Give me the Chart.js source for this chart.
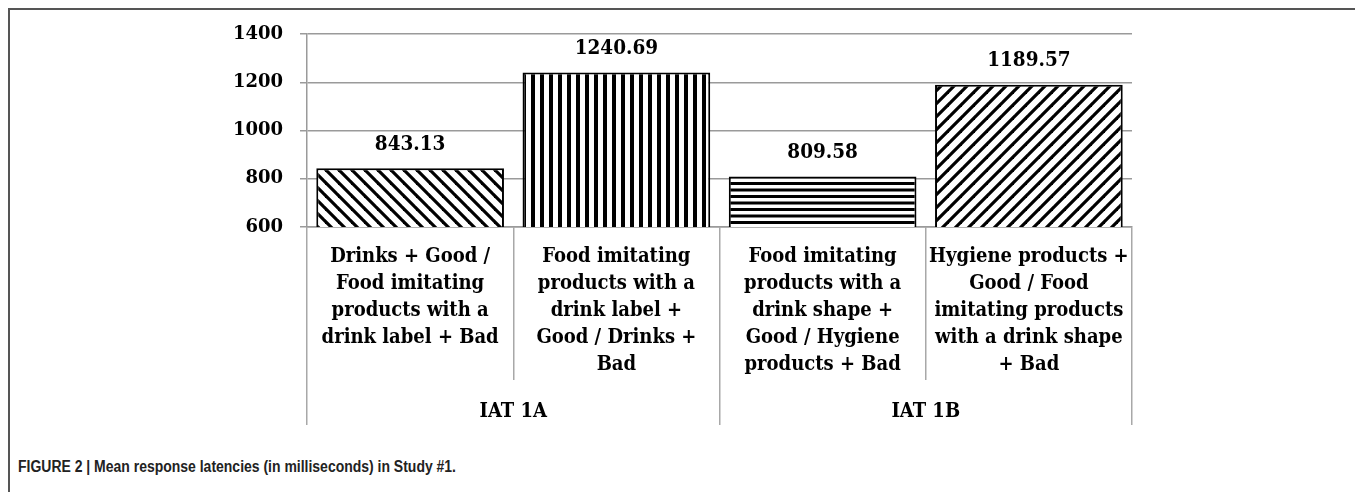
<!DOCTYPE html>
<html><head><meta charset="utf-8">
<script src="https://cdn.jsdelivr.net/npm/chart.js@4.4.1/dist/chart.umd.min.js"></script>
<style>
html,body{margin:0;padding:0;background:#fff;width:1355px;height:492px;overflow:hidden;}
#frame{position:absolute;left:8px;top:8px;width:2000px;height:600px;border-left:2px solid #555;border-top:2px solid #555;}
#wrap{position:absolute;left:0;top:0;width:1355px;height:440px;}
#caption{position:absolute;left:18px;top:458px;font:bold 16px "Liberation Sans Narrow","Liberation Sans",Arial,sans-serif;color:#222;white-space:nowrap;transform-origin:0 0;}
</style></head><body>
<div id="frame"></div>
<div id="wrap"><canvas id="c" width="1355" height="440"></canvas></div>
<div id="caption">FIGURE 2 | Mean response latencies (in milliseconds) in Study #1.</div>
<script>
const categories = [
  ["Drinks + Good /", "Food imitating", "products with a", "drink label + Bad"],
  ["Food imitating", "products with a", "drink label +", "Good / Drinks +", "Bad"],
  ["Food imitating", "products with a", "drink shape +", "Good / Hygiene", "products + Bad"],
  ["Hygiene products +", "Good / Food", "imitating products", "with a drink shape", "+ Bad"]
];
const groups = ["IAT 1A", "IAT 1B"];
const latencies = [843.13, 1240.69, 809.58, 1189.57];
const yTicks = [600, 800, 1000, 1200, 1400];
const patternKinds = ["back", "vert", "horiz", "fwd"];

// fit caption to reference width
(function () {
  const cap = document.getElementById('caption');
  const w = cap.getBoundingClientRect().width;
  if (w > 0) cap.style.transform = 'scaleX(' + (438 / w) + ')';
})();

const canvas = document.getElementById('c');
const ctx0 = canvas.getContext('2d');

function makePattern(kind) {
  const t = document.createElement('canvas');
  const g = t.getContext('2d');
  if (kind === 'back' || kind === 'fwd') {
    const s = 13;
    t.width = s; t.height = s;
    g.fillStyle = '#fff'; g.fillRect(0, 0, s, s);
    g.strokeStyle = '#000'; g.lineWidth = 3.2; g.lineCap = 'butt';
    for (const k of [-s, 0, s]) {
      g.beginPath();
      if (kind === 'back') { g.moveTo(k - 2, -2); g.lineTo(k + s + 2, s + 2); }
      else { g.moveTo(k - 2, s + 2); g.lineTo(k + s + 2, -2); }
      g.stroke();
    }
  } else if (kind === 'vert') {
    t.width = 9; t.height = 4;
    g.fillStyle = '#fff'; g.fillRect(0, 0, 9, 4);
    g.fillStyle = '#000'; g.fillRect(0, 0, 4, 4);
  } else {
    t.width = 4; t.height = 13;
    g.fillStyle = '#fff'; g.fillRect(0, 0, 4, 13);
    g.fillStyle = '#000'; g.fillRect(0, 0, 4, 3); g.fillRect(0, 6.5, 4, 3);
  }
  return ctx0.createPattern(t, 'repeat');
}

const serif = '"DejaVu Serif", "Liberation Serif", serif';
const serifCond = '"DejaVu Serif Condensed", "DejaVu Serif", "Liberation Serif", serif';

const valueLabels = {
  id: 'valueLabels',
  afterDatasetsDraw(chart) {
    const ctx = chart.ctx;
    const meta = chart.getDatasetMeta(0);
    ctx.save();
    ctx.font = 'bold 20.5px ' + serifCond;
    ctx.fillStyle = '#000';
    ctx.textAlign = 'center';
    ctx.textBaseline = 'middle';
    meta.data.forEach((bar, i) => {
      ctx.fillText(latencies[i].toFixed(2), bar.x, bar.y - 24);
    });
    ctx.restore();
  }
};

new Chart(canvas, {
  type: 'bar',
  data: {
    labels: categories,
    datasets: [{
      data: latencies,
      backgroundColor: patternKinds.map(makePattern),
      borderColor: '#000',
      borderWidth: 2,
      borderSkipped: false,
      categoryPercentage: 1,
      barPercentage: 0.91
    }]
  },
  options: {
    responsive: false,
    animation: false,
    layout: { padding: { left: 0, right: 223, top: 34, bottom: 15 } },
    plugins: { legend: { display: false }, tooltip: { enabled: false } },
    scales: {
      x: {
        position: 'bottom',
        weight: 0,
        offset: true,
        grid: { offset: true, drawOnChartArea: false, drawTicks: true, tickLength: 153, color: '#a8a8a8', lineWidth: 1.5 },
        border: { display: true, color: '#9a9a9a', width: 1.5 },
        ticks: {
          autoSkip: false, maxRotation: 0, minRotation: 0,
          padding: -136.5, color: '#000',
          font: { family: serifCond, weight: 'bold', size: 20, lineHeight: '27px' }
        },
        afterFit(s) { s.height = 153; }
      },
      x2: {
        type: 'category',
        labels: groups,
        position: 'bottom',
        weight: 1,
        offset: true,
        grid: { offset: true, drawOnChartArea: false, drawTicks: true, tickLength: 45, color: '#a8a8a8', lineWidth: 1.5 },
        border: { display: false },
        ticks: {
          autoSkip: false, maxRotation: 0, minRotation: 0,
          padding: -26.5, color: '#000',
          font: { family: serifCond, weight: 'bold', size: 20, lineHeight: '27px' }
        },
        afterFit(s) { s.height = 45; }
      },
      y: {
        min: 600, max: 1400,
        grid: { color: '#9a9a9a', lineWidth: 1.5, tickLength: 7 },
        border: { display: true, color: '#9a9a9a', width: 1.5 },
        afterBuildTicks(s) { s.ticks = yTicks.map(v => ({ value: v })); },
        ticks: {
          padding: 17, color: '#000',
          callback: (v) => String(v),
          font: { family: serif, weight: 'bold', size: 18 }
        },
        afterFit(s) { s.width = 307; }
      }
    }
  },
  plugins: [valueLabels]
});
</script>
</body></html>
